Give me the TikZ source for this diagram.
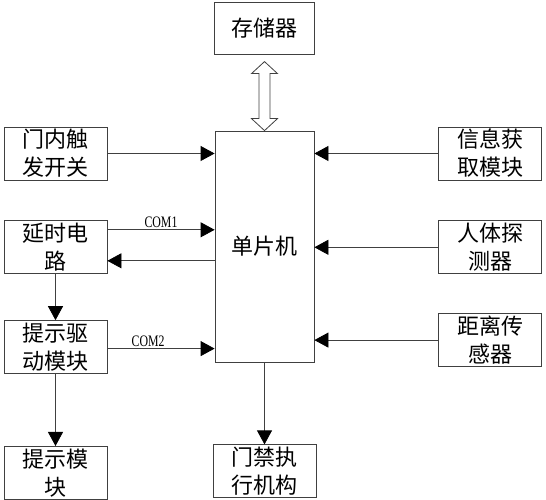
\documentclass[tikz,border=0pt]{standalone}
\usepackage{fontspec}
\newfontfamily\cjk{Noto Sans CJK SC}
\newfontfamily\comfont{Liberation Serif}
\usetikzlibrary{arrows.meta,positioning,calc}
\newcommand{\comlabel}[1]{\scalebox{0.74}[1]{#1}}
\tikzstyle{blk}=[rectangle,draw=black!75,line width=0.8pt,align=center,inner sep=0pt,minimum width=103pt,minimum height=53pt,font=\cjk\fontsize{22}{28}\selectfont]
\tikzstyle{cpubox}=[blk,minimum width=99pt,minimum height=231pt]
\tikzstyle{memblk}=[blk,minimum width=100pt,minimum height=52pt]
\tikzstyle{com}=[font=\comfont\fontsize{16}{16}\selectfont,inner sep=1.5pt]
\tikzstyle{arr}=[draw=black!75,line width=0.8pt,-{Triangle[length=14pt,width=15pt,color=black]}]
\tikzstyle{dbl}=[draw=black!75,line width=0.8pt,fill=white]

\begin{document}
\begin{tikzpicture}[x=1pt,y=1pt]
\useasboundingbox (0,0) rectangle (546,500);
\node[cpubox] (cpu) at (264.5,253.5) {单片机};
\node[memblk, above=76pt of cpu] (mem) {存储器};
\node[blk, below=82pt of cpu] (door) {门禁执\\行机构};
\node[blk] (trig) at (55.5,346.5) {门内触\\发开关};
\node[blk, below=40pt of trig] (delay) {延时电\\路};
\node[blk, below=46pt of delay] (drv) {提示驱\\动模块};
\node[blk, below=72pt of drv] (tip) {提示模\\块};
\node[blk] (info) at (490,346.5) {信息获\\取模块};
\node[blk, below=40pt of info] (body) {人体探\\测器};
\node[blk, below=39pt of body] (dist) {距离传\\感器};
% memory <-> mcu
\coordinate (m1) at ($(mem.south)+(0,-7)$);
\coordinate (m2) at (cpu.north);
\draw[dbl] (m1) -- ++(-13,-12) -- ++(7.5,0) -- ($(m2)+(-5.5,12)$) -- ++(-7.5,0) -- (m2)
  -- ++(13,12) -- ++(-7.5,0) -- ($(m1)+(5.5,-12)$) -- ++(7.5,0) -- cycle;
% left side
\draw[arr] (trig.east) -- (trig.east -| cpu.west);
\draw[arr] ([yshift=17.5pt]delay.east) -- ([yshift=17.5pt]delay.east -| cpu.west) node[midway,above,com] {\comlabel{COM1}};
\draw[arr] ([yshift=-13.5pt]delay.east -| cpu.west) -- ([yshift=-13.5pt]delay.east);
\draw[arr] ([yshift=-1.5pt]drv.east) -- ([yshift=-1.5pt]drv.east -| cpu.west) node[pos=0.38,above,com] {\comlabel{COM2}};
\draw[arr] (delay) -- (drv);
\draw[arr] (drv) -- (tip);
% right side
\draw[arr] (info.west) -- (info.west -| cpu.east);
\draw[arr] (body.west) -- (body.west -| cpu.east);
\draw[arr] (dist.west) -- (dist.west -| cpu.east);
\draw[arr] (cpu) -- (door);
\end{tikzpicture}
\end{document}
